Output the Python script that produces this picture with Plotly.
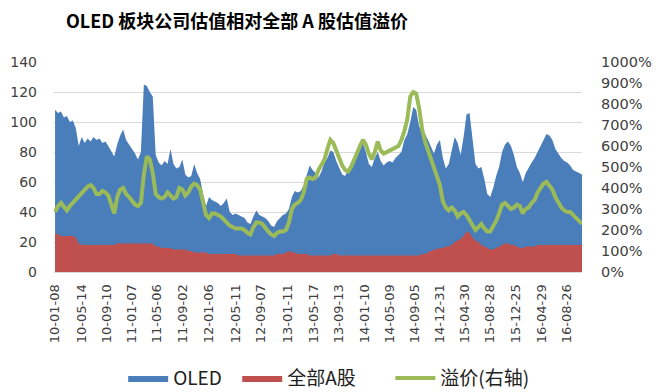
import pandas as pd
import plotly.graph_objects as go

# ---- data (two-week sampling) ----
start_date = "2010-01-08"

oled = [108,106,107,103,104,100,101,96,84,90,
        86,89,87,90,88,89,86,87,84,80,
        77,85,91,95,88,85,82,79,75,80,
        125,124,120,117,78,73,71,74,72,82,
        72,69,70,75,65,63,64,72,66,62,
        52,44,50,48,47,46,44,46,49,40,
        38,39,38,37,36,33,32,37,41,38,
        37,36,34,31,30,34,36,38,39,42,
        50,54,53,54,58,64,71,68,66,63,
        67,73,76,81,80,74,69,65,64,69,
        73,76,78,82,86,80,72,70,76,80,
        74,71,73,74,73,76,78,80,88,92,
        100,110,108,97,93,92,88,83,79,85,
        88,76,69,72,82,90,86,78,90,105,
        106,88,72,69,70,62,52,50,56,64,
        70,80,85,87,84,78,70,66,60,66,
        70,73,76,80,85,89,92,91,88,82,
        79,76,74,73,71,68,67,66,65]

all_a = [26,25,24,24,24,24,24,23,19,18,
         18,18,18,18,18,18,18,18,18,18,
         18,19,19,19,19,19,19,19,19,19,
         19,19,19,19,17,17,16,16,16,16,
         15,15,15,15,15,14,14,13,13,13,
         13,13,12,12,12,12,12,12,12,12,
         12,12,11,11,11,11,11,11,11,11,
         11,11,11,11,11,12,12,12,13,14,
         13,13,12,12,12,12,11,11,11,11,
         11,11,11,11,12,12,11,11,11,11,
         11,11,11,11,11,11,11,11,11,11,
         11,11,11,11,11,11,11,11,11,11,
         11,11,11,11,12,12,13,14,15,15,
         16,16,17,17,18,20,21,22,24,27,
         26,23,21,20,18,17,16,15,15,16,
         17,18,19,19,18,18,17,16,16,17,
         17,17,17,18,18,18,18,18,18,18,
         18,18,18,18,18,18,18,18,18]

premium = [286,314,329,314,293,314,329,350,364,379,
           393,407,414,400,371,371,386,379,364,321,
           279,357,393,400,371,357,336,321,314,329,
           464,550,536,471,371,357,350,357,379,364,
           350,357,400,393,364,379,407,421,414,393,
           321,271,257,279,279,271,264,250,236,221,
           214,207,207,207,200,186,179,214,236,236,
           229,207,193,179,171,186,193,193,200,236,
           300,321,329,343,379,443,450,443,450,486,
           514,536,586,629,614,579,550,507,486,479,
           500,536,564,600,629,607,564,536,571,621,
           579,564,571,579,586,593,600,629,671,729,
           836,857,850,779,679,621,579,550,500,464,
           414,336,307,293,307,293,264,279,286,271,
           250,221,200,214,229,207,193,193,214,243,
           279,321,329,314,300,307,321,314,279,300,
           307,329,343,379,400,421,429,414,393,357,
           329,307,293,286,286,271,257,243,229]

tick_dates = ["2010-01-08","2010-05-14","2010-09-10","2011-01-07","2011-05-06",
              "2011-09-02","2012-01-06","2012-05-11","2012-09-07","2013-01-11",
              "2013-05-17","2013-09-13","2014-01-10","2014-05-09","2014-09-05",
              "2014-12-31","2015-04-30","2015-08-28","2015-12-25","2016-04-29",
              "2016-08-26"]
tick_labels = ["10-01-08","10-05-14","10-09-10","11-01-07","11-05-06",
               "11-09-02","12-01-06","12-05-11","12-09-07","13-01-11",
               "13-05-17","13-09-13","14-01-10","14-05-09","14-09-05",
               "14-12-31","15-04-30","15-08-28","15-12-25","16-04-29",
               "16-08-26"]

dates = pd.date_range(start=start_date, periods=len(oled), freq="14D")

BLUE = "#4a7ebb"
RED = "#c0504d"
GREEN = "#9bbb59"
TICK_FONT = dict(family="DejaVu Sans", size=14, color="#404040")
RTICK_FONT = dict(family="DejaVu Sans", size=14.5, color="#404040")
XTICK_FONT = dict(family="DejaVu Sans", size=13, color="#404040")
LEG_FONT = dict(family="Noto Sans CJK SC", size=19, color="#202020")

# the page body has an 8px default margin, so the figure is 8px smaller
W, H = 653, 384

fig = go.Figure()
fig.add_trace(go.Scatter(x=dates, y=oled, name="OLED", mode="lines",
                         fill="tozeroy", fillcolor=BLUE, legend="legend",
                         line=dict(width=0, color=BLUE)))
fig.add_trace(go.Scatter(x=dates, y=all_a, name="全部A股", mode="lines",
                         fill="tozeroy", fillcolor=RED, legend="legend2",
                         line=dict(width=0, color=RED)))
fig.add_trace(go.Scatter(x=dates, y=premium, name="溢价(右轴)", mode="lines",
                         yaxis="y2", legend="legend3",
                         line=dict(width=4, color=GREEN)))

leg_common = dict(orientation="h", y=-0.505, yanchor="middle", xanchor="left",
                  font=LEG_FONT, itemwidth=40, bgcolor="rgba(0,0,0,0)")

fig.update_layout(
    width=W, height=H,
    margin=dict(l=46, r=79, t=54, b=120, autoexpand=False),
    paper_bgcolor="white", plot_bgcolor="white",
    title=dict(text="<b>OLED 板块公司估值相对全部 A 股估值溢价</b>",
               x=58/W, xanchor="left", xref="container",
               y=1-14/H, yanchor="middle", yref="container",
               pad=dict(l=0, r=0, t=0, b=0),
               font=dict(family="Noto Sans CJK SC", size=18, color="black")),
    xaxis=dict(type="date", range=["2010-01-03", str(dates[-1].date())],
               tickmode="array", tickvals=tick_dates, ticktext=tick_labels,
               tickangle=-90, tickfont=XTICK_FONT, showgrid=False,
               showline=True, linecolor="#d9d9d9", ticks="",
               ticklabelstandoff=6, automargin=False),
    yaxis=dict(range=[0, 140], dtick=20, tickfont=TICK_FONT,
               showgrid=True, gridcolor="#d9d9d9", gridwidth=1,
               zeroline=False, ticks="", ticklabelstandoff=16, automargin=False),
    yaxis2=dict(range=[0, 1000], dtick=100, ticksuffix="%", overlaying="y",
                side="right", showgrid=False, zeroline=False, tickfont=RTICK_FONT,
                ticks="", ticklabelstandoff=18, automargin=False),
    legend=dict(x=0.131, **leg_common),
    legend2=dict(x=0.347, **leg_common),
    legend3=dict(x=0.637, **leg_common),
    showlegend=True,
)

fig.write_html("out.html")
